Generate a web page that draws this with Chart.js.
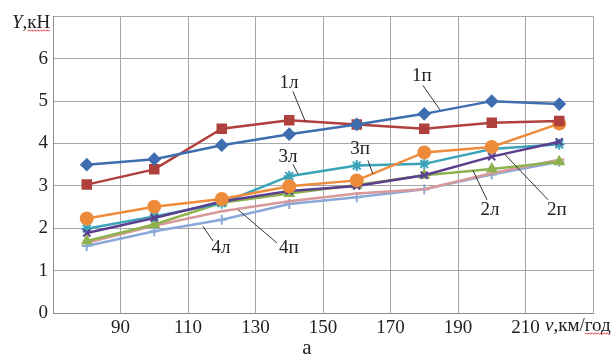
<!DOCTYPE html>
<html>
<head>
<meta charset="utf-8">
<script src="https://cdn.jsdelivr.net/npm/chart.js@4.4.0/dist/chart.umd.min.js"></script>
<style>
  html, body { margin: 0; padding: 0; background: #fff; }
  #wrap { width: 614px; height: 360px; }
</style>
</head>
<body>
<div id="wrap"><canvas id="forceChart" width="614" height="360"></canvas></div>
<script>
// швидкість, км/год
const speeds = [80, 100, 120, 140, 160, 180, 200, 220];
const y1p = [3.50, 3.63, 3.96, 4.22, 4.45, 4.70, 5.00, 4.93];
const y1l = [3.03, 3.39, 4.35, 4.55, 4.45, 4.35, 4.49, 4.53];
const y2l = [1.70, 2.09, 2.60, 2.82, 3.02, 3.25, 3.40, 3.57];
const y2p = [1.89, 2.24, 2.63, 2.88, 3.00, 3.25, 3.69, 4.04];
const y3l = [1.99, 2.28, 2.59, 3.23, 3.48, 3.52, 3.87, 3.98];
const y3p = [2.23, 2.51, 2.69, 2.99, 3.13, 3.79, 3.92, 4.47];
const y4l = [1.58, 1.93, 2.20, 2.57, 2.73, 2.92, 3.27, 3.57];
const y4p = [1.66, 2.06, 2.40, 2.64, 2.82, 2.92, 3.30, 3.62];

const xTicks = [90, 110, 130, 150, 170, 190, 210];
const yTicks = [0, 1, 2, 3, 4, 5, 6];

// підписи кривих: текст, точка тексту, початок і кінець виноски (в одиницях осей)
const curveLabels = [
    { text: '1л', at: [139.9, 5.42], from: [141.1, 5.23], to: [144.7, 4.53] },
    { text: '1п', at: [179.3, 5.60], from: [179.6, 5.37], to: [184.7, 4.79] },
    { text: '3л', at: [139.6, 3.67], from: [141.1, 3.51], to: [142.6, 3.28] },
    { text: '3п', at: [161.0, 3.86], from: [163.3, 3.60], to: [164.8, 3.28] },
    { text: '2л', at: [199.5, 2.44], from: [198.6, 2.67], to: [194.4, 3.37] },
    { text: '2п', at: [219.3, 2.44], from: [216.7, 2.67], to: [203.9, 3.74] },
    { text: '4л', at: [119.8, 1.53], from: [117.4, 1.70], to: [114.4, 2.05] },
    { text: '4п', at: [139.9, 1.53], from: [136.4, 1.65], to: [124.8, 2.44] }
];

function pts(arr) {
    return speeds.map((x, i) => ({ x: x, y: arr[i] }));
}

function series(label, arr, color, style, radius) {
    return {
        label: label,
        data: pts(arr),
        borderColor: color,
        backgroundColor: color,
        pointBackgroundColor: color,
        pointBorderColor: color,
        pointStyle: style,
        pointRadius: radius,
        pointBorderWidth: 2,
        borderWidth: 2.5,
        tension: 0
    };
}

const serif = '"Liberation Serif", "DejaVu Serif", serif';
const fontSize = 19;

// червона хвиляста лінія (як у перевірці правопису)
function squiggle(ctx, x0, x1, y) {
    ctx.save();
    ctx.strokeStyle = '#e04040';
    ctx.lineWidth = 1;
    ctx.beginPath();
    let up = true;
    ctx.moveTo(x0, y);
    for (let x = x0 + 1.5; x <= x1; x += 1.5) {
        ctx.lineTo(x, up ? y - 1.2 : y + 0.3);
        up = !up;
    }
    ctx.stroke();
    ctx.restore();
}

const labelsPlugin = {
    id: 'curveLabels',
    afterDraw(chart) {
        const ctx = chart.ctx;
        const xs = chart.scales.x, ys = chart.scales.y;
        ctx.save();
        curveLabels.forEach(l => {
            ctx.strokeStyle = '#333';
            ctx.lineWidth = 1;
            ctx.beginPath();
            ctx.moveTo(xs.getPixelForValue(l.from[0]), ys.getPixelForValue(l.from[1]));
            ctx.lineTo(xs.getPixelForValue(l.to[0]), ys.getPixelForValue(l.to[1]));
            ctx.stroke();
            ctx.fillStyle = '#222';
            ctx.font = fontSize + 'px ' + serif;
            ctx.textAlign = 'center';
            ctx.textBaseline = 'middle';
            ctx.fillText(l.text, xs.getPixelForValue(l.at[0]), ys.getPixelForValue(l.at[1]));
        });

        // назви осей
        ctx.textBaseline = 'middle';
        ctx.textAlign = 'left';
        ctx.fillStyle = '#222';
        ctx.font = 'italic ' + fontSize + 'px ' + serif;
        ctx.fillText('Y', 12, 23);
        let w = ctx.measureText('Y').width;
        ctx.font = fontSize + 'px ' + serif;
        ctx.fillText(',кН', 12 + w, 23);
        let w2 = ctx.measureText(',кН').width;
        squiggle(ctx, 12 + w + ctx.measureText(',').width, 12 + w + w2, 31);

        ctx.font = 'italic ' + fontSize + 'px ' + serif;
        ctx.fillText('v', 545, 326);
        w = ctx.measureText('v').width;
        ctx.font = fontSize + 'px ' + serif;
        ctx.fillText(',км/год', 545 + w, 326);
        w2 = ctx.measureText(',км/год').width;
        squiggle(ctx, 545 + w + ctx.measureText(',км/').width, 545 + w + w2, 334);

        ctx.font = '21px ' + serif;
        ctx.textAlign = 'center';
        ctx.fillText('а', 307, 348);
        ctx.restore();
    }
};

new Chart(document.getElementById('forceChart'), {
    type: 'line',
    data: {
        datasets: [
            series('1п', y1p, '#3E6DB0', 'rectRot', 5.5),
            series('1л', y1l, '#B0403D', 'rect', 6),
            series('3п', y3p, '#EE8B3A', 'circle', 6),
            series('2п', y2p, '#5A3F8E', 'crossRot', 5),
            series('3л', y3l, '#3BA3B8', 'star', 5.5),
            series('2л', y2l, '#8DB24E', 'triangle', 5),
            series('4п', y4p, '#D8999A', 'dash', 5),
            series('4л', y4l, '#8AA8D8', 'cross', 5)
        ]
    },
    options: {
        responsive: false,
        animation: false,
        layout: { padding: { top: 12, right: 21, left: 0, bottom: 0 } },
        plugins: { legend: { display: false }, tooltip: { enabled: false } },
        scales: {
            x: {
                type: 'linear',
                min: 70,
                max: 230,
                afterBuildTicks: s => { s.ticks = [70].concat(xTicks, [230]).map(v => ({ value: v })); },
                afterFit: s => { s.height = 47; },
                ticks: {
                    padding: 4,
                    color: '#222',
                    font: { family: serif, size: fontSize },
                    maxRotation: 0,
                    callback: v => xTicks.includes(v) ? String(v) : ''
                },
                grid: { color: '#a6a6a6', lineWidth: 1, drawTicks: false },
                border: { color: '#8c8c8c' }
            },
            y: {
                min: 0,
                max: 7,
                afterBuildTicks: s => { s.ticks = yTicks.concat([7]).map(v => ({ value: v })); },
                afterFit: s => { s.width = 53; },
                ticks: {
                    padding: 5,
                    color: '#222',
                    font: { family: serif, size: fontSize },
                    callback: v => yTicks.includes(v) ? String(v) : ''
                },
                grid: { color: '#a6a6a6', lineWidth: 1, drawTicks: false },
                border: { color: '#8c8c8c' }
            }
        }
    },
    plugins: [labelsPlugin]
});
</script>
</body>
</html>
